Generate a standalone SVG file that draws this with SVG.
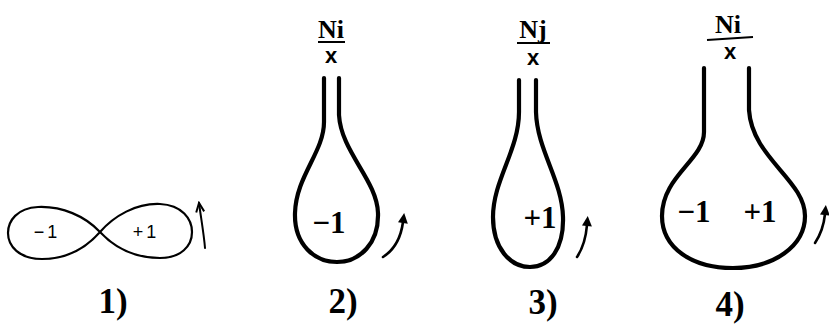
<svg xmlns="http://www.w3.org/2000/svg" width="829" height="325" viewBox="0 0 829 325">
<style>
.loop{fill:none;stroke:#000;stroke-width:2.2;stroke-linejoin:round}
.bulb{fill:none;stroke:#000;stroke-width:4.2;stroke-linecap:round;stroke-linejoin:round}
.arr{fill:none;stroke:#000;stroke-width:2.6;stroke-linecap:round}
.lab1{font-family:"Liberation Sans",Arial,sans-serif;font-size:18px;letter-spacing:3px;text-anchor:middle}
.lab{font-family:"Liberation Serif","Times New Roman",serif;font-weight:bold;font-size:31px;text-anchor:middle}
.num{font-family:"Liberation Serif","Times New Roman",serif;font-weight:bold;font-size:35px;text-anchor:middle}
.ni{font-family:"Liberation Serif","Times New Roman",serif;font-weight:bold;font-size:26px;text-anchor:middle}
.x{font-family:"Liberation Sans",Arial,sans-serif;font-weight:bold;font-size:22px;text-anchor:middle}
.ul{stroke:#000;stroke-width:2}
</style>
<defs>
<marker id="head" viewBox="0 0 10 10" refX="1" refY="5" markerUnits="userSpaceOnUse" markerWidth="12" markerHeight="10" orient="auto">
<path d="M0,0 L10,5 L0,10 Z" fill="#000"/>
</marker>
<marker id="open" viewBox="0 0 10 10" refX="9" refY="5" markerUnits="userSpaceOnUse" markerWidth="12" markerHeight="10" orient="auto">
<path d="M0,1 L9,5 L0,9" fill="none" stroke="#000" stroke-width="2"/>
</marker>
</defs>
<rect width="829" height="325" fill="#fff"/>

<g id="fig1">
<path class="loop" d="M100,232 C85,216 62,206 38,207 C17,208 8,221 8,233 C8,246 19,259 42,259 C66,259 86,248 100,232 C114,216 136,203 160,204 C182,205 192,219 192,232 C192,246 181,258 160,258 C136,258 115,248 100,232 Z"/>
<text class="lab1" x="47" y="238">−1</text>
<text class="lab1" x="146" y="238">+1</text>
<text class="num" x="113" y="313">1)</text>
</g>

<g id="fig2">
<text class="ni" x="331" y="38">Ni</text>
<line class="ul" x1="318" y1="42" x2="345" y2="42"/>
<text class="x" x="331" y="63">x</text>
<path class="bulb" d="M324,78 L324,122 C324,152 296,176 295,213 C294,245 315,262 337,262 C360,262 379,243 378,213 C377,180 341,152 339,115 L339,78"/>
<text class="lab" x="329" y="233">−1</text>
<text class="num" x="343" y="313">2)</text>
</g>

<g id="fig3">
<text class="ni" x="533" y="38">Nj</text>
<line class="ul" x1="517" y1="43" x2="550" y2="43"/>
<text class="x" x="533" y="65">x</text>
<path class="bulb" d="M519,80 L519,112 C519,150 493,180 493,217 C493,248 510,267 530,267 C550,267 564,248 563,217 C562,180 537,150 536,112 L536,80"/>
<text class="lab" x="540" y="228">+1</text>
<text class="num" x="543" y="314">3)</text>
</g>

<g id="fig4">
<text class="ni" x="728" y="33">Ni</text>
<line class="ul" x1="707" y1="40" x2="753" y2="37"/>
<text class="x" x="730" y="59">x</text>
<path class="bulb" d="M704,68 L704,132 C704,160 662,176 662,216 C662,248 692,268 733,268 C774,268 805,246 805,216 C805,180 752,158 749,110 L749,68"/>
<text class="lab" x="694" y="222">−1</text>
<text class="lab" x="760" y="222">+1</text>
<text class="num" x="730" y="316">4)</text>
</g>

<g id="arrows">
<path class="arr" style="stroke-width:2" d="M205,248 C204,235 201,218 199,203" marker-end="url(#open)"/>
<path class="arr" d="M383,257 C394,250 401,237 403,222" marker-end="url(#head)"/>
<path class="arr" d="M577,257 C583,248 586,237 587,225" marker-end="url(#head)"/>
<path class="arr" d="M815,243 C821,234 824,224 825,214" marker-end="url(#head)"/>
</g>
</svg>
